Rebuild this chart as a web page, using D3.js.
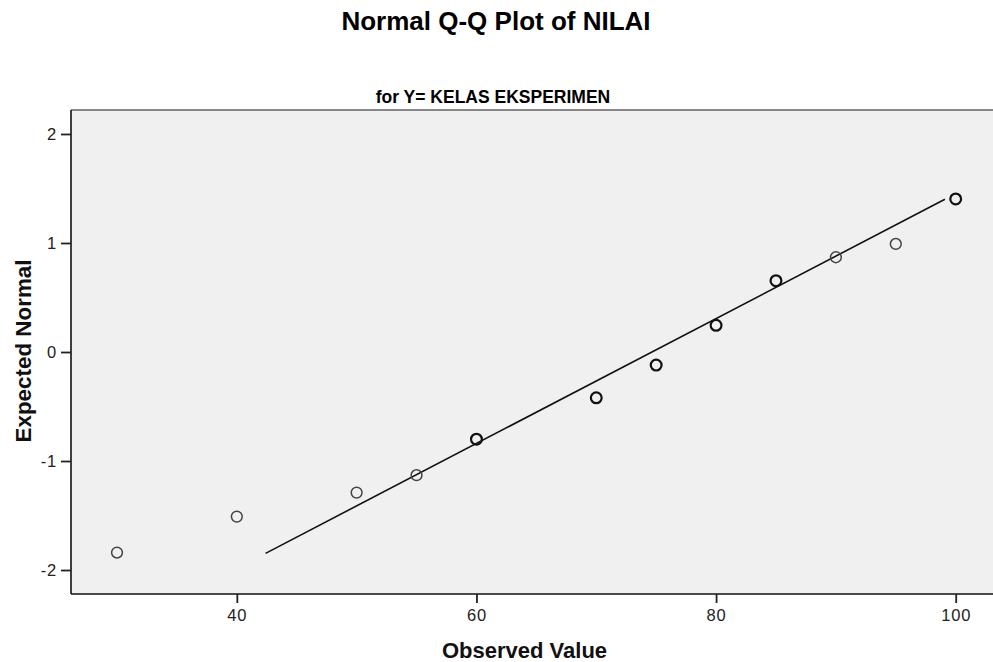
<!DOCTYPE html>
<html><head><meta charset="utf-8">
<script src="https://cdn.jsdelivr.net/npm/d3@7"></script>
<style>
body{margin:0;background:#fff;}
svg{display:block;font-family:"Liberation Sans",Arial,sans-serif;}
</style></head><body>
<svg id="c" width="993" height="662"></svg>
<script>
const observed = [30, 40, 50, 55, 60, 70, 75, 80, 85, 90, 95, 100];
const expected = [-1.84, -1.51, -1.29, -1.13, -0.80, -0.42, -0.12, 0.245, 0.654, 0.869, 0.991, 1.404];
const counts   = [1, 1, 1, 1, 2, 2, 2, 2, 2, 1, 1, 2];
const lineObserved = [42.4, 99.1];
const lineExpected = [-1.847, 1.401];
const xTicks = [40, 60, 80, 100];
const yTicks = [-2, -1, 0, 1, 2];

const svg = d3.select("#c");
const L = 71, T = 110, R = 1000, B = 594;
const x = d3.scaleLinear().domain([26.16, 100 + (R - 955.7) / 11.98]).range([L, R]);
const y = d3.scaleLinear().domain([-2.22, 2.22]).range([B, T]);

svg.append("rect").attr("x", L).attr("y", T).attr("width", R - L).attr("height", B - T).attr("fill", "#f0f0f0");
svg.append("line").attr("x1", L).attr("x2", R).attr("y1", T).attr("y2", T).attr("stroke", "#888").attr("stroke-width", 2);

// regression line
svg.append("line")
  .attr("x1", x(lineObserved[0])).attr("y1", y(lineExpected[0]))
  .attr("x2", x(lineObserved[1])).attr("y2", y(lineExpected[1]))
  .attr("stroke", "#111").attr("stroke-width", 1.6);

// points
svg.append("g").selectAll("circle").data(observed).join("circle")
  .attr("cx", d => x(d)).attr("cy", (d, i) => y(expected[i])).attr("r", 5.4)
  .attr("fill", "none")
  .attr("stroke", (d, i) => counts[i] > 1 ? "#111" : "#444")
  .attr("stroke-width", (d, i) => counts[i] > 1 ? 2.2 : 1.5);

// axes
const fmt = d => String(d);
const xAxis = svg.append("g").attr("transform", `translate(0,${B})`)
  .call(d3.axisBottom(x).tickValues(xTicks).tickSize(9).tickSizeOuter(0).tickPadding(6).tickFormat(fmt));
const yAxis = svg.append("g").attr("transform", `translate(${L},0)`)
  .call(d3.axisLeft(y).tickValues(yTicks).tickSize(10).tickSizeOuter(0).tickPadding(4).tickFormat(fmt));
[xAxis, yAxis].forEach(g => {
  g.select(".domain").attr("stroke", "#111").attr("stroke-width", 1.6);
  g.selectAll(".tick line").attr("stroke", "#222").attr("stroke-width", 1.8);
  g.selectAll(".tick text").attr("fill", "#222").attr("font-size", 16.5)
    .attr("letter-spacing", 0.8).attr("font-family", "Liberation Sans, Arial, sans-serif");
});
yAxis.select(".domain").attr("d", `M0,${T}V${B}`);
xAxis.select(".domain").attr("d", `M${L},0H${R}`);

// titles
svg.append("text").attr("x", 496).attr("y", 30).attr("text-anchor", "middle")
  .attr("font-weight", "bold").attr("font-size", 26).attr("fill", "#000").text("Normal Q-Q Plot of NILAI");
svg.append("text").attr("x", 493).attr("y", 103).attr("text-anchor", "middle")
  .attr("font-weight", "bold").attr("font-size", 17.5).attr("fill", "#000").text("for Y= KELAS EKSPERIMEN");
svg.append("text").attr("x", 442).attr("y", 658).attr("text-anchor", "start")
  .attr("font-weight", "bold").attr("font-size", 22).attr("fill", "#111").text("Observed Value");
svg.append("text").attr("transform", "translate(31,351) rotate(-90)").attr("text-anchor", "middle")
  .attr("font-weight", "bold").attr("font-size", 22.4).attr("fill", "#111").text("Expected Normal");
</script>
</body></html>
